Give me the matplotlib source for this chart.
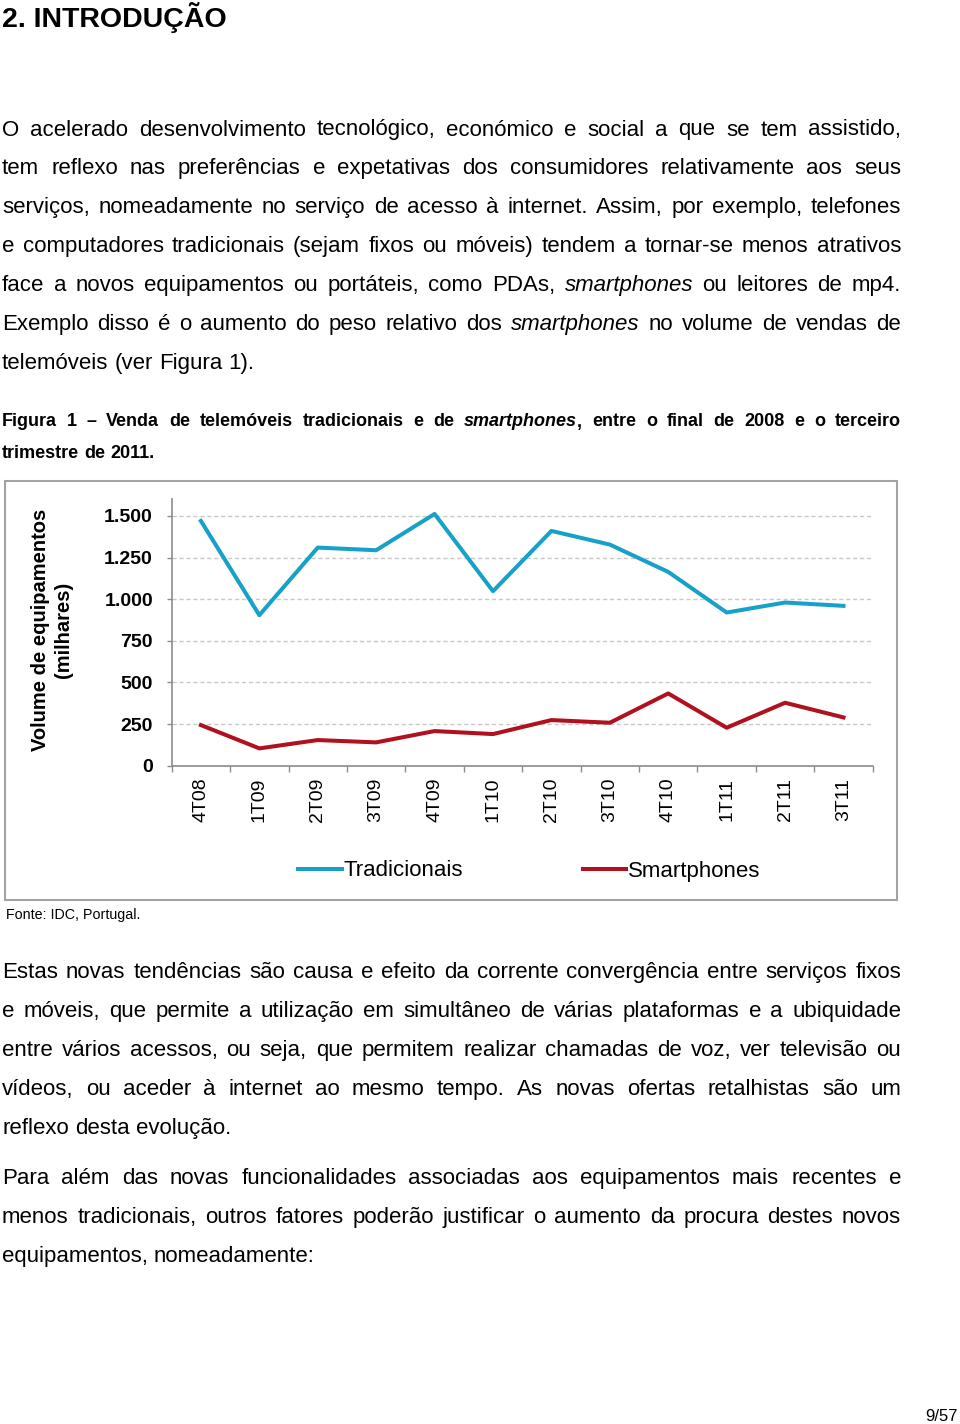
import matplotlib
matplotlib.use("Agg")
import matplotlib.pyplot as plt
from matplotlib.patches import Rectangle

# Venda de telemóveis (milhares), fonte IDC Portugal
trimestres = ["4T08", "1T09", "2T09", "3T09", "4T09", "1T10",
              "2T10", "3T10", "4T10", "1T11", "2T11", "3T11"]
tradicionais = [1470, 904, 1310, 1294, 1512, 1048, 1410, 1328, 1164, 920, 980, 960]
smartphones = [244, 104, 154, 140, 208, 190, 274, 258, 434, 228, 378, 290]
y_ticks = [0, 250, 500, 750, 1000, 1250, 1500]
y_labels = ["0", "250", "500", "750", "1.000", "1.250", "1.500"]

# Texto da página (*...* = itálico)
par1 = [
    "O acelerado desenvolvimento tecnológico, económico e social a que se tem assistido,",
    "tem reflexo nas preferências e expetativas dos consumidores relativamente aos seus",
    "serviços, nomeadamente no serviço de acesso à internet. Assim, por exemplo, telefones",
    "e computadores tradicionais (sejam fixos ou móveis) tendem a tornar-se menos atrativos",
    "face a novos equipamentos ou portáteis, como PDAs, *smartphones* ou leitores de mp4.",
    "Exemplo disso é o aumento do peso relativo dos *smartphones* no volume de vendas de",
    "telemóveis (ver Figura 1).",
]
legenda_fig = [
    "Figura 1 – Venda de telemóveis tradicionais e de *smartphones*, entre o final de 2008 e o terceiro",
    "trimestre de 2011.",
]
par2 = [
    "Estas novas tendências são causa e efeito da corrente convergência entre serviços fixos",
    "e móveis, que permite a utilização em simultâneo de várias plataformas e a ubiquidade",
    "entre vários acessos, ou seja, que permitem realizar chamadas de voz, ver televisão ou",
    "vídeos, ou aceder à internet ao mesmo tempo. As novas ofertas retalhistas são um",
    "reflexo desta evolução.",
]
par3 = [
    "Para além das novas funcionalidades associadas aos equipamentos mais recentes e",
    "menos tradicionais, outros fatores poderão justificar o aumento da procura destes novos",
    "equipamentos, nomeadamente:",
]

W, H = 960, 1424
plt.rcParams["font.family"] = ["Liberation Sans", "DejaVu Sans"]

fig = plt.figure(figsize=(W / 100, H / 100), dpi=100)
page = fig.add_axes([0, 0, 1, 1], zorder=0)
page.set_xlim(0, W)
page.set_ylim(H, 0)
page.axis("off")
renderer = fig.canvas.get_renderer()


def parse(word):
    segs = []
    for i, p in enumerate(word.split("*")):
        if p:
            segs.append((p, i % 2 == 1))
    return segs


def put_line(line, y, size, weight="normal", justify=True, x0=2, x1=901):
    items = []
    total = 0
    for word in line.split():
        ts = []
        ww = 0
        for s, it in parse(word):
            t = page.text(0, y, s, fontsize=size, fontweight=weight,
                          fontstyle="italic" if it else "normal",
                          va="baseline", ha="left")
            w = t.get_window_extent(renderer).width
            ts.append((t, w))
            ww += w
        items.append((ts, ww))
        total += ww
    if justify and len(items) > 1:
        gap = (x1 - x0 - total) / (len(items) - 1)
    else:
        gap = 0.278 * size * 100 / 72
    x = x0
    for ts, ww in items:
        for t, w in ts:
            t.set_x(x)
            x += w
        x += gap


def put_par(lines, y0, step, size, weight="normal"):
    for i, line in enumerate(lines):
        put_line(line, y0 + i * step, size, weight, justify=(i < len(lines) - 1))


page.text(2, 27, "2. INTRODUÇÃO", fontsize=20.5, fontweight="bold", va="baseline")
put_par(par1, 135.5, 38.9, 16)
put_par(legenda_fig, 426.5, 31.5, 13, "bold")
put_par(par2, 978, 38.9, 16)
put_par(par3, 1184, 38.9, 16)
page.text(6, 919.5, "Fonte: IDC, Portugal.", fontsize=10.3, va="baseline")
page.text(958, 1421, "9/57", fontsize=12, ha="right", va="baseline")

# moldura do gráfico
page.add_patch(Rectangle((5, 480.5), 892, 419.5, fill=False,
                         edgecolor="#a3a3a3", lw=1.5))

# gráfico
axis_col = "#8c8c8c"
ax = fig.add_axes([171.7 / W, 1 - 765.7 / H, 701 / W, 266.4 / H], zorder=1)
ax.patch.set_alpha(0)
x = list(range(len(trimestres)))
ax.plot(x, tradicionais, color="#17a1c8", lw=2.9, label="Tradicionais", zorder=3)
ax.plot(x, smartphones, color="#b1101e", lw=2.9, label="Smartphones", zorder=3)

ax.set_xlim(-0.5, len(trimestres) - 0.5)
ax.set_ylim(0, 1600)
ax.set_yticks(y_ticks)
ax.set_yticklabels(y_labels, fontsize=14, fontweight="bold")
ax.set_xticks(x)
ax.set_xticklabels(trimestres, rotation=90, fontsize=14)
ax.set_xticks([i - 0.5 for i in range(len(trimestres) + 1)], minor=True)
ax.tick_params(axis="x", which="major", length=0, pad=8.6)
ax.tick_params(axis="x", which="minor", length=4.3, width=1, color=axis_col)
ax.tick_params(axis="y", length=3.6, width=1, color=axis_col, pad=9.9)
ax.grid(axis="y", color="#c9c9c9", lw=1, ls=(0, (3, 2)), zorder=0)
for s in ["top", "right"]:
    ax.spines[s].set_visible(False)
for s in ["left", "bottom"]:
    ax.spines[s].set_color(axis_col)
    ax.spines[s].set_linewidth(1.2)

page.text(52, 630, "Volume de equipamentos\n(milhares)", rotation=90,
          ha="center", va="center", fontsize=14.5, fontweight="bold",
          multialignment="center", linespacing=1.25)

fig.legend(loc="center", bbox_to_anchor=(529.5 / W, 1 - 871 / H), ncol=2,
           frameon=False, fontsize=16, handlelength=1.94, handletextpad=0.09,
           columnspacing=5.4, borderpad=0, borderaxespad=0)

fig.savefig("out.png", dpi=100)
